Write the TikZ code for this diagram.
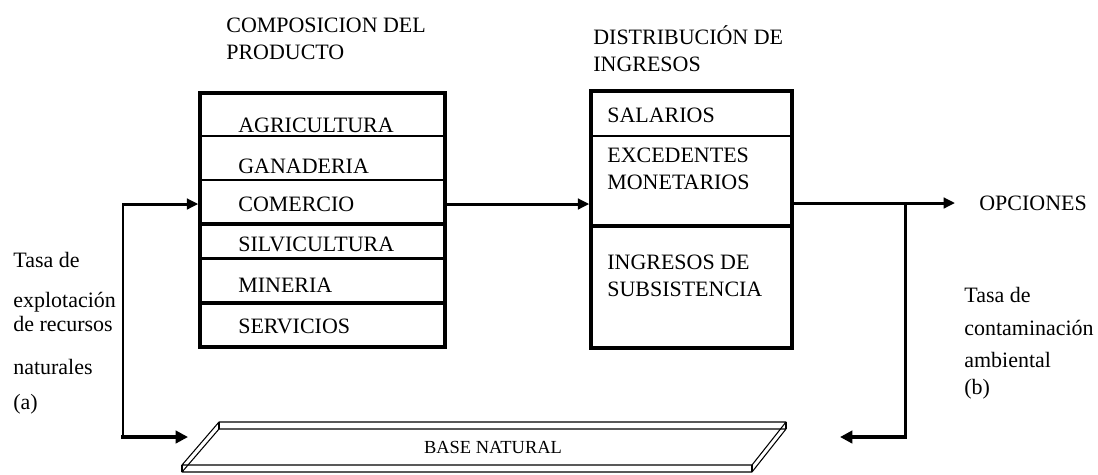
\documentclass[tikz,border=0pt]{standalone}
\usepackage{fontspec}
\setmainfont{Liberation Serif}
\usetikzlibrary{arrows.meta}

\tikzset{
  caja/.style={draw, line width=2pt, inner sep=0pt},
  etiq/.style={anchor=west, inner sep=0pt, align=left, font=\fontsize{12.5}{15.2}\selectfont},
  linea/.style={line width=1.7pt},
  gruesa/.style={line width=2.6pt},
  flecha/.style={line width=1.7pt, -{Triangle[length=6.5pt,width=6pt]}},
  flechagruesa/.style={line width=2.3pt, line cap=rect, -{Triangle[length=7pt,width=7pt]}},
  lamina/.style={line width=0.6pt, line join=round}
}

\begin{document}
\begin{tikzpicture}[x=0.02cm,y=-0.02cm]
  \useasboundingbox (0,0) rectangle (1098,474);
  % titulos
  \node[etiq] (tcomp) at (226,38.5) {COMPOSICION DEL\\PRODUCTO};
  \node[etiq] (tdist) at (593,49) {DISTRIBUCIÓN DE\\INGRESOS};

  % cajas
  \node[caja, minimum width=4.9cm, minimum height=5.08cm] (prod) at (322.5,220) {};
  \node[caja, minimum width=4.02cm, minimum height=5.14cm] (dist) at (691.5,219.5) {};
  \foreach \y in {136,180,258} \draw[linea] (200,\y) -- (445,\y);
  \foreach \y in {224,303} \draw[gruesa] (200,\y) -- (445,\y);
  \draw[linea] (591,136) -- (792,136);
  \draw[gruesa] (591,226) -- (792,226);

  \node[etiq] (agri) at (238,125) {AGRICULTURA};
  \node[etiq] (gana) at (238,166) {GANADERIA};
  \node[etiq] (come) at (238,204) {COMERCIO};
  \node[etiq] (silv) at (238,244) {SILVICULTURA};
  \node[etiq] (mine) at (238,285) {MINERIA};
  \node[etiq] (serv) at (238,326) {SERVICIOS};

  \node[etiq] (sala) at (607,115) {SALARIOS};
  \node[etiq] (exce) at (607,168.5) {EXCEDENTES\\MONETARIOS};
  \node[etiq] (subs) at (607,275.5) {INGRESOS DE\\SUBSISTENCIA};

  \node[etiq] (opci) at (979,203) {OPCIONES};

  % tasas
  \node[etiq] (tasaa) at (13,260) {Tasa de};
  \node[etiq] (explo) at (13,302) {explotación};
  \node[etiq] (recur) at (13,324) {de recursos};
  \node[etiq] (natur) at (13,367) {naturales};
  \node[etiq] (leta) at (13,404) {(a)};
  \node[etiq] (tasab) at (964,295) {Tasa de};
  \node[etiq] (conta) at (964,328) {contaminación};
  \node[etiq] (ambie) at (964,360) {ambiental};
  \node[etiq] (letb) at (964,389) {(b)};

  % base natural
  \draw[lamina] (219,422) -- (786,422) -- (752,465) -- (182,465) -- cycle;
  \draw[lamina] (219,429) -- (786,429) -- (752,472) -- (182,472) -- cycle;
  \draw[lamina] (219,422) -- (219,429) (786,422) -- (786,429)
    (752,465) -- (752,472) (182,465) -- (182,472);
  \node[font=\fontsize{10.5}{12}\selectfont, inner sep=0pt] (base) at (493,447) {BASE NATURAL};

  % conectores
  \coordinate (izqabj) at (123,437);
  \coordinate (baseizq) at (188,437);
  \coordinate (nudo) at (905,203);
  \coordinate (derabj) at (905,437);
  \coordinate (baseder) at (840,437);
  \draw[flecha] (izqabj) |- (prod.west |- come.west);
  \draw[flechagruesa] (izqabj) -- (baseizq);
  \draw[flecha] (prod.east |- come.west) -- (dist.west |- come.west);
  \draw[flecha, shorten >=0.48cm] (dist.east |- nudo) -- (opci.west);
  \draw[linea] (nudo) -- (derabj);
  \draw[flechagruesa] (derabj) -- (baseder);
\end{tikzpicture}
\end{document}
